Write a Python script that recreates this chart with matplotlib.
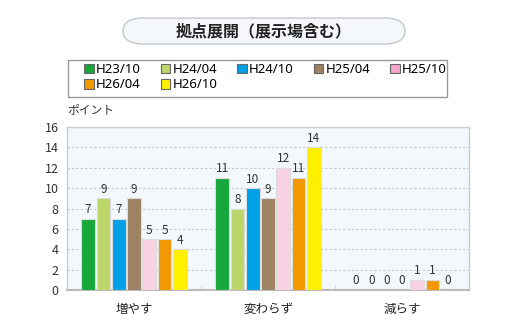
import numpy as np
import matplotlib
matplotlib.use('Agg')
import matplotlib.pyplot as plt
from matplotlib.patches import FancyBboxPatch, Patch, Rectangle

plt.rcParams['font.family'] = ['Noto Sans CJK JP', 'DejaVu Sans']

# データ
categories = ['増やす', '変わらず', '減らす']
series = ['H23/10', 'H24/04', 'H24/10', 'H25/04', 'H25/10', 'H26/04', 'H26/10']
values = [
    [7, 11, 0],
    [9, 8, 0],
    [7, 10, 0],
    [9, 9, 0],
    [5, 12, 1],
    [5, 11, 1],
    [4, 14, 0],
]
bar_colors = ['#17a83b', '#bdd66a', '#00a0e6', '#9e8263', '#f8d2e2', '#f39800', '#fff000']
legend_colors = ['#17a83b', '#bdd66a', '#00a0e6', '#9e8263', '#f4a3c9', '#f39800', '#fff000']
yticks = [0, 2, 4, 6, 8, 10, 12, 14, 16]

W, H = 520, 327
fig = plt.figure(figsize=(W / 100, H / 100), dpi=100)

# タイトル枠
title_box = FancyBboxPatch((123 / W, 1 - 44 / H), 282 / W, 26 / H,
                           boxstyle='round,pad=0,rounding_size=0.04',
                           transform=fig.transFigure, facecolor='#f4f8fb',
                           edgecolor='#c4c8cc', linewidth=1)
fig.patches.append(title_box)
fig.text(264 / W, 1 - 31 / H, '拠点展開（展示場含む）', ha='center', va='center',
         fontsize=11.5, fontweight='bold', color='#222222')

# 凡例枠
fig.patches.append(Rectangle((68 / W, 1 - 97 / H), 379 / W, 37 / H,
                             transform=fig.transFigure, facecolor='white',
                             edgecolor='#999999', linewidth=1))

ax = fig.add_axes([67 / W, 1 - 290 / H, 402 / W, 163 / H])
ax.set_facecolor('#f2f8fc')

x = np.arange(len(categories))
slot = 0.114
bw = 0.102
for i, (name, vals) in enumerate(zip(series, values)):
    pos = x + (i - 3) * slot
    ax.bar(pos, vals, width=bw, color=bar_colors[i], edgecolor='#dcdcdc',
           linewidth=0.8, zorder=3)
    for px, v in zip(pos, vals):
        ax.text(px, v + 0.25, str(v), ha='center', va='bottom', fontsize=8.5,
                color='#333333', zorder=4)

ax.set_xlim(-0.5, 2.5)
ax.set_ylim(0, 16)
ax.set_yticks(yticks)
ax.yaxis.grid(True, linestyle=(0, (2, 2)), color='#c8c8c8', linewidth=0.8, zorder=0)
ax.tick_params(axis='y', length=0, labelsize=9, pad=6, labelcolor='#333333')
ax.set_xticks(x)
ax.set_xticklabels(categories)
ax.tick_params(axis='x', length=0, labelsize=9, pad=9, labelcolor='#222222')
ax.set_xticks([0.5, 1.5], minor=True)
ax.tick_params(axis='x', which='minor', direction='in', length=3, color='#cccccc')
for s in ax.spines.values():
    s.set_color('#cccccc')
    s.set_linewidth(1)
ax.spines['bottom'].set_color('#bbbbbb')
ax.spines['bottom'].set_linewidth(1.5)

fig.text(67 / W, 1 - 110 / H, 'ポイント', ha='left', va='center', fontsize=8.5,
         color='#333333')

# 凡例
handles = [Patch(facecolor=c, edgecolor='#666666', linewidth=0.8) for c in legend_colors]
order = [0, 5, 1, 6, 2, 3, 4]
fig.legend([handles[k] for k in order], [series[k] for k in order],
           loc='upper left', bbox_to_anchor=(84 / W, 1 - 63 / H), ncol=5,
           frameon=False, prop={'family': 'Noto Sans', 'size': 9.5},
           handlelength=0.75, handleheight=0.75,
           handletextpad=0.15, columnspacing=1.5, labelspacing=0.18,
           borderpad=0, borderaxespad=0)

fig.savefig('out.png', dpi=100)
